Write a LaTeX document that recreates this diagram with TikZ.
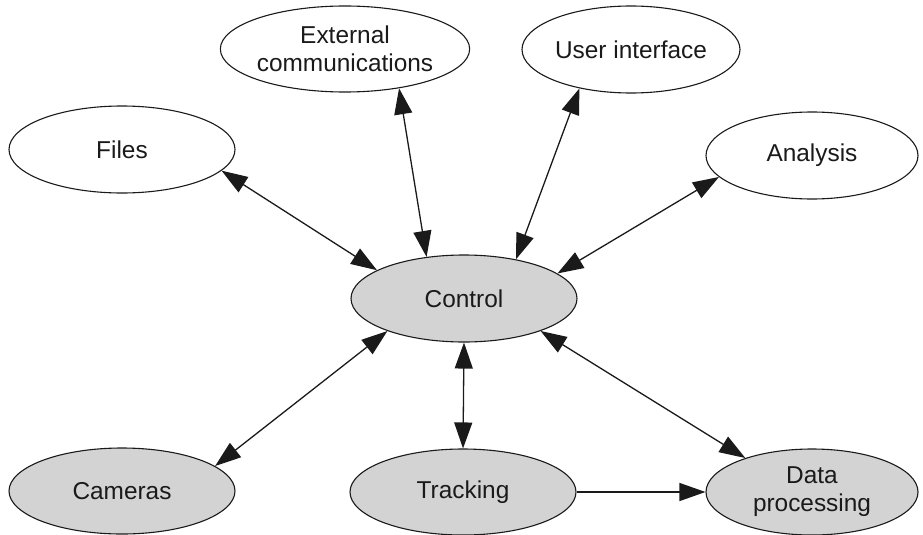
\documentclass[tikz,border=0pt]{standalone}
\usepackage{fontspec}
\setmainfont{Liberation Sans}
\usetikzlibrary{arrows.meta,shapes.geometric}

\definecolor{nodegrey}{HTML}{D3D3D3}
\definecolor{inkgrey}{HTML}{1A1A1A}

\tikzset{
  blob/.style={ellipse, draw=inkgrey, line width=1.1pt, inner sep=0pt,
    align=center, text=inkgrey,
    font=\fontsize{24.4}{28}\selectfont},
  plain/.style={blob, fill=white},
  shaded/.style={blob, fill=nodegrey},
  link/.style={line width=1.3pt, draw=inkgrey,
    {Triangle[length=26pt,width=18pt]}-{Triangle[length=26pt,width=18pt]}},
  onelink/.style={line width=1.3pt, draw=inkgrey,
    -{Triangle[length=26pt,width=18pt]}},
}

\begin{document}
\begin{tikzpicture}[x=1pt, y=-1pt]
  \useasboundingbox (0,0) rectangle (923,535);

  % outer modules
  \node[plain, minimum width=226pt, minimum height=86pt] (ext) at (345,49)
    {External\\communications};
  \node[plain, minimum width=218pt, minimum height=87pt] (ui) at (631,49.5)
    {User interface};
  \node[plain, minimum width=226pt, minimum height=87pt] (files) at (122,149.5)
    {Files};
  \node[plain, minimum width=212pt, minimum height=87pt] (analysis) at (812,155.5)
    {Analysis};

  % core modules
  \node[shaded, minimum width=226pt, minimum height=87pt] (control) at (464,298.5)
    {Control};
  \node[shaded, minimum width=226pt, minimum height=86pt] (cameras) at (122,491)
    {Cameras};
  \node[shaded, minimum width=226pt, minimum height=86pt] (tracking) at (463,492)
    {Tracking};
  \node[shaded, minimum width=212pt, minimum height=86pt] (dataproc) at (812,492)
    {Data\\processing};

  % connections to the controller
  \draw[link] (files.-12.4) -- (control.162.6);
  \draw[link] (ext.-36.7) -- (control.132.4);
  \draw[link] (ui.217.8) -- (control.37.4);
  \draw[link] (analysis.193.7) -- (control.15.8);
  \draw[link] (cameras.15.5) -- (control.203);
  \draw[link] (tracking.90) -- (control.270);
  \draw[link] (dataproc.153.8) -- (control.-23.6);

  % tracking feeds data processing
  \draw[onelink] (tracking.east) -- (dataproc.west);
\end{tikzpicture}
\end{document}
